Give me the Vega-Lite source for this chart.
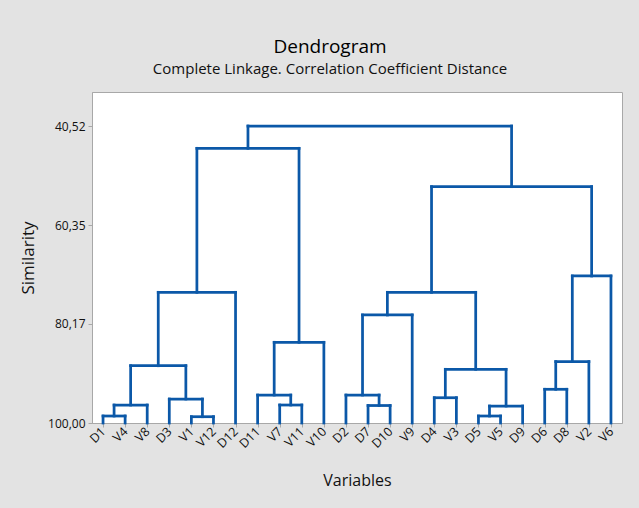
{
  "$schema": "https://vega.github.io/schema/vega-lite/v6.json",
  "autosize": {"type": "none"},
  "width": 530,
  "height": 331,
  "padding": {"left": 92, "top": 92, "right": 17, "bottom": 85},
  "background": "#e3e3e3",
  "title": {
    "text": "Dendrogram",
    "subtitle": "Complete Linkage. Correlation Coefficient Distance",
    "anchor": "middle",
    "frame": "group",
    "dx": -27,
    "offset": 15,
    "font": "Open Sans",
    "fontSize": 19,
    "fontWeight": "normal",
    "color": "#000000",
    "subtitleFont": "Open Sans",
    "subtitleFontSize": 15,
    "subtitleColor": "#111111",
    "subtitlePadding": 5
  },
  "config": {
    "view": {"fill": "white", "stroke": "#a8a8a8", "strokeWidth": 1},
    "axis": {
      "domainColor": "#a8a8a8",
      "tickColor": "#a8a8a8",
      "tickSize": 4,
      "grid": false,
      "labelFont": "Open Sans",
      "labelFontSize": 12,
      "labelColor": "#111111",
      "titleFont": "Open Sans",
      "titleFontSize": 16,
      "titleFontWeight": "normal",
      "titleColor": "#111111"
    }
  },
  "data": {
    "values": [
      {"node": "A", "lx": 1, "rx": 2, "lh": 100, "rh": 100, "h": 98.6},
      {"node": "B", "lx": 1.5, "rx": 3, "lh": 98.6, "rh": 100, "h": 96.4},
      {"node": "C", "lx": 5, "rx": 6, "lh": 100, "rh": 100, "h": 98.74},
      {"node": "D", "lx": 4, "rx": 5.5, "lh": 100, "rh": 98.74, "h": 95.2},
      {"node": "E", "lx": 2.25, "rx": 4.75, "lh": 96.4, "rh": 95.2, "h": 88.53},
      {"node": "F", "lx": 3.5, "rx": 7, "lh": 88.53, "rh": 100, "h": 73.83},
      {"node": "G", "lx": 9, "rx": 10, "lh": 100, "rh": 100, "h": 96.4},
      {"node": "H", "lx": 8, "rx": 9.5, "lh": 100, "rh": 96.4, "h": 94.4},
      {"node": "I", "lx": 8.75, "rx": 11, "lh": 94.4, "rh": 100, "h": 83.84},
      {"node": "J", "lx": 5.25, "rx": 9.875, "lh": 73.83, "rh": 83.84, "h": 44.99},
      {"node": "K", "lx": 13, "rx": 14, "lh": 100, "rh": 100, "h": 96.5},
      {"node": "L", "lx": 12, "rx": 13.5, "lh": 100, "rh": 96.5, "h": 94.4},
      {"node": "M", "lx": 12.75, "rx": 15, "lh": 94.4, "rh": 100, "h": 78.37},
      {"node": "N", "lx": 16, "rx": 17, "lh": 100, "rh": 100, "h": 94.94},
      {"node": "O", "lx": 18, "rx": 19, "lh": 100, "rh": 100, "h": 98.6},
      {"node": "P", "lx": 18.5, "rx": 20, "lh": 98.6, "rh": 100, "h": 96.6},
      {"node": "Q", "lx": 16.5, "rx": 19.25, "lh": 94.94, "rh": 96.6, "h": 89.25},
      {"node": "R", "lx": 13.875, "rx": 17.875, "lh": 78.37, "rh": 89.25, "h": 73.83},
      {"node": "S", "lx": 21, "rx": 22, "lh": 100, "rh": 100, "h": 93.25},
      {"node": "T", "lx": 21.5, "rx": 23, "lh": 93.25, "rh": 100, "h": 87.7},
      {"node": "U", "lx": 22.25, "rx": 24, "lh": 87.7, "rh": 100, "h": 70.56},
      {"node": "V", "lx": 15.875, "rx": 23.125, "lh": 73.83, "rh": 70.56, "h": 52.67},
      {"node": "W", "lx": 7.5625, "rx": 19.5, "lh": 44.99, "rh": 52.67, "h": 40.52}
    ]
  },
  "encoding": {
    "x": {
      "field": "lx",
      "type": "quantitative",
      "scale": {"domain": [0.5, 24.5], "nice": false, "zero": false},
      "axis": {
        "title": "Variables",
        "values": [1, 2, 3, 4, 5, 6, 7, 8, 9, 10, 11, 12, 13, 14, 15, 16, 17, 18, 19, 20, 21, 22, 23, 24],
        "labelExpr": "['D1','V4','V8','D3','V1','V12','D12','D11','V7','V11','V10','D2','D7','D10','V9','D4','V3','D5','V5','D9','D6','D8','V2','V6'][datum.value - 1]",
        "labelAngle": -45,
        "labelAlign": "right",
        "labelBaseline": "middle",
        "labelPadding": 2,
        "labelFontSize": 12.5,
        "labelOverlap": false,
        "labelBound": false,
        "titlePadding": 22
      }
    }
  },
  "layer": [
    {
      "mark": {"type": "rule", "color": "#0b58a8", "strokeWidth": 2.75, "strokeCap": "square"},
      "encoding": {
        "x2": {"field": "rx"},
        "y": {
          "field": "h",
          "type": "quantitative",
          "scale": {"domain": [33.71, 100], "reverse": true, "nice": false, "zero": false},
          "axis": {
            "title": "Similarity",
            "titleFontSize": 17,
            "values": [40.52, 60.35, 80.17, 100],
            "labelExpr": "replace(format(datum.value, '.2f'), '.', ',')",
            "labelPadding": 3,
            "titlePadding": 10
          }
        }
      }
    },
    {
      "mark": {"type": "rule", "color": "#0b58a8", "strokeWidth": 2.75, "strokeCap": "square"},
      "encoding": {
        "y": {"field": "lh", "type": "quantitative"},
        "y2": {"field": "h"}
      }
    },
    {
      "mark": {"type": "rule", "color": "#0b58a8", "strokeWidth": 2.75, "strokeCap": "square"},
      "encoding": {
        "x": {"field": "rx", "type": "quantitative"},
        "y": {"field": "rh", "type": "quantitative"},
        "y2": {"field": "h"}
      }
    }
  ]
}
